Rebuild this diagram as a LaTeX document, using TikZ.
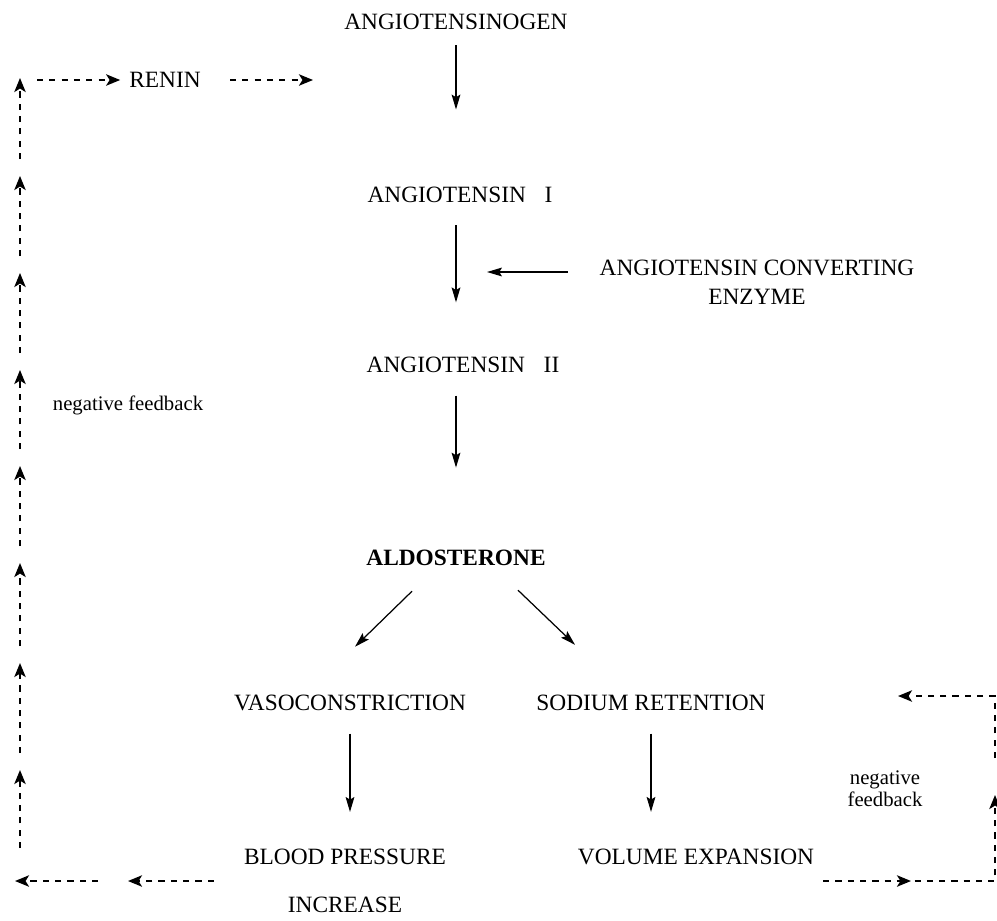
\documentclass[tikz,border=0pt]{standalone}
\usepackage{fontspec}
\setmainfont{Liberation Serif}
\usetikzlibrary{calc,arrows.meta}

\begin{document}
\begin{tikzpicture}[x=0.02cm, y=-0.02cm,
    stage/.style={font=\fontsize{13.3}{16}\selectfont, inner sep=0pt},
    note/.style={font=\fontsize{11.8}{12.5}\selectfont, inner sep=0pt, align=center},
    flow/.style={line width=0.7pt, -{Stealth[length=8.5pt, width=5pt, inset=1.5pt]}},
    feedback/.style={line width=1pt, dash pattern=on 3.5pt off 3.5pt, -{Stealth[length=8pt, width=6.5pt, inset=2pt]}}]
    \useasboundingbox (0,0) rectangle (997,920);

    % Cascade
    \node[stage] (agen) at (456,22) {ANGIOTENSINOGEN};
    \node[stage] (ang1) at (460,195) {ANGIOTENSIN\hspace{0.8em}I};
    \node[stage] (ang2) at (463,365) {ANGIOTENSIN\hspace{0.8em}II};
    \node[stage, font=\fontsize{13.3}{16}\selectfont\bfseries] (aldo) at (456,558) {ALDOSTERONE};
    \node[stage, align=center, font=\fontsize{13.3}{16.5}\selectfont] (ace) at (757,282) {ANGIOTENSIN CONVERTING\\ENZYME};
    \node[stage] (renin) at (165,80) {RENIN};

    % Effects
    \node[stage] (vaso) at (350,703) {VASOCONSTRICTION};
    \node[stage] (sod) at (651,703) {SODIUM RETENTION};
    \node[stage, align=center, font=\fontsize{13.3}{27.3}\selectfont] (bp) at (345,881) {BLOOD PRESSURE\\INCREASE};
    \node[stage] (vol) at (696,857) {VOLUME EXPANSION};

    % Feedback labels
    \node[note] (nfl) at (128,405) {negative feedback};
    \node[note] (nfr) at (885,789) {negative\\feedback};

    % Main arrows
    \draw[flow, shorten <=8.5pt, shorten >=44pt] (agen.south) -- (agen.south |- ang1.north);
    \draw[flow, shorten <=12.6pt, shorten >=31pt] (agen.south |- ang1.south) -- (agen.south |- ang2.north);
    \draw[flow, shorten <=12.7pt, shorten >=46.8pt] (agen.south |- ang2.south) -- (agen.south |- aldo.north);
    \coordinate (acein) at (487,272);
    \draw[flow, shorten <=18pt] (ace.west |- acein) -- (acein);
    \draw[flow] ($(aldo.south)+(-44,25)$) -- ($(vaso.north)+(5,-48)$);
    \draw[flow] ($(aldo.south)+(62,24)$) -- ($(sod.north)+(-76,-50)$);
    \draw[flow, shorten <=12.7pt, shorten >=21pt] (vaso.south) -- (vaso.south |- bp.north);
    \draw[flow, shorten <=12.7pt, shorten >=21pt] (sod.south) -- (sod.south |- vol.north);

    % Right feedback loop
    \coordinate (rmid) at (911,881);
    \coordinate (rb) at (995,881);
    \coordinate (rup) at (995,795);
    \coordinate (rgap) at (995,758);
    \coordinate (rt) at (995,696);
    \coordinate (rin) at (898,696);
    \draw[feedback, shorten <=5pt] (vol.east |- rb) -- (rmid);
    \draw[feedback, shorten <=2pt] (rmid) -- (rb) -- (rup);
    \draw[feedback] (rgap) -- (rt) -- (rin);

    % Left feedback loop
    \coordinate (lmid) at (128,881);
    \coordinate (lend) at (15,881);
    \draw[feedback, shorten <=17pt] (bp.west) -- (lmid);
    \draw[feedback, shorten <=17pt] (lmid) -- (lend);
    \foreach \tip/\tail in {78/159, 176/256, 273/353, 370/449, 466/546, 563/646, 663/753, 770/848}
        \draw[feedback] (20,\tail) -- (20,\tip);
    \coordinate (ltop) at (20,80);
    \coordinate (rentgt) at (313,80);
    \draw[feedback, shorten <=9.7pt, shorten >=5pt] (ltop) -- (renin.west);
    \draw[feedback, shorten <=16.5pt] (renin.east) -- (rentgt);
\end{tikzpicture}
\end{document}
